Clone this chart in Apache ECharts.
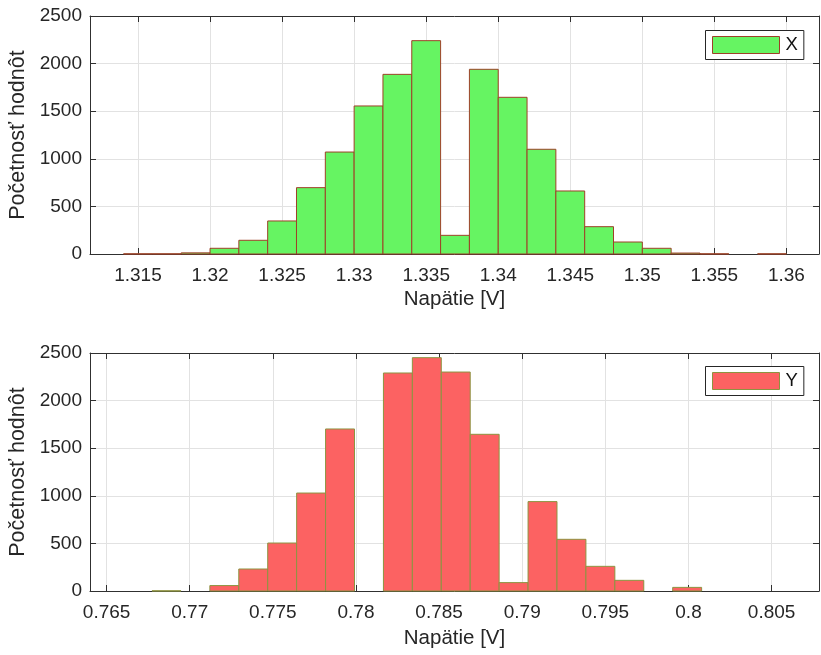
<!DOCTYPE html>
<html>
<head>
<meta charset="utf-8">
<script src="https://cdn.jsdelivr.net/npm/echarts@6/dist/echarts.min.js"></script>
<style>
  html, body { margin: 0; padding: 0; background: #fff; }
  #chart { width: 821px; height: 655px; }
</style>
</head>
<body>
<div id="chart"></div>
<script>
// Histogram of X voltages: bin edges [V] and counts per bin
const xEdges = [1.314, 1.316, 1.318, 1.320, 1.322, 1.324, 1.326, 1.328, 1.330, 1.332, 1.334, 1.336,
                1.338, 1.340, 1.342, 1.344, 1.346, 1.348, 1.350, 1.352, 1.354, 1.356, 1.358, 1.360];
const xCounts = [2, 2, 12, 60, 144, 347, 697, 1071, 1555, 1887, 2241, 196,
                 1940, 1646, 1100, 662, 287, 126, 60, 10, 2, 0, 2];

// Histogram of Y voltages: bin edges [V] and counts per bin
const yEdges = [0.76773, 0.76947, 0.77121, 0.77295, 0.77469, 0.77643, 0.77817, 0.77991, 0.78165, 0.78339,
                0.78513, 0.78687, 0.78861, 0.79035, 0.79209, 0.79383, 0.79557, 0.79731, 0.79905, 0.80079];
const yCounts = [2, 0, 57, 231, 504, 1029, 1702, 0, 2290, 2451,
                 2300, 1646, 88, 939, 543, 259, 112, 0, 38];

// Axis tick values
const xTicks = [1.315, 1.32, 1.325, 1.33, 1.335, 1.34, 1.345, 1.35, 1.355, 1.36];
const yTicks = [0.765, 0.77, 0.775, 0.78, 0.785, 0.79, 0.795, 0.8, 0.805];
const countTicks = [0, 500, 1000, 1500, 2000, 2500];
const xRange = [1.31167, 1.36226];
const yRange = [0.76400, 0.80785];

const countLabel = 'Početnosť hodnôt';
const voltLabel = 'Napätie [V]';

const FONT = "'Liberation Sans', Arial, Helvetica, sans-serif";
const TEXT = '#262626';
const AXIS = '#303030';
const GRIDLINE = '#e2e2e2';

const xFill = '#66f462', xEdge = '#9e4028';
const yFill = '#fc6262', yEdge = '#8c9440';

function toBins(edges, counts) {
  return counts.map((c, i) => [edges[i], edges[i + 1], c]);
}

function renderBin(params, api) {
  const v = api.value(2);
  if (!v) return null;
  const p0 = api.coord([api.value(0), v]);
  const p1 = api.coord([api.value(1), 0]);
  return {
    type: 'rect',
    shape: { x: p0[0], y: p0[1], width: p1[0] - p0[0], height: p1[1] - p0[1] },
    style: api.style()
  };
}

function mainX(grid, range, ticks, gap) {
  return {
    type: 'value', gridIndex: grid, position: 'bottom',
    min: range[0], max: range[1],
    name: voltLabel, nameLocation: 'middle', nameGap: gap,
    nameTextStyle: { fontFamily: FONT, fontSize: 20.5, color: TEXT },
    axisLine: { show: true, onZero: false, lineStyle: { color: AXIS, width: 1 } },
    axisTick: { show: true, inside: true, length: 6, customValues: ticks, lineStyle: { color: AXIS } },
    axisLabel: { show: true, customValues: ticks, margin: 12, fontFamily: FONT, fontSize: 19, color: TEXT,
                 formatter: v => String(v) },
    splitLine: { show: true, lineStyle: { color: GRIDLINE, width: 1 } }
  };
}
function topX(grid, range, ticks) {
  return {
    type: 'value', gridIndex: grid, position: 'top',
    min: range[0], max: range[1],
    axisLine: { show: true, onZero: false, lineStyle: { color: AXIS, width: 1 } },
    axisTick: { show: true, inside: true, length: 6, customValues: ticks, lineStyle: { color: AXIS } },
    axisLabel: { show: false },
    splitLine: { show: false }
  };
}
function leftY(grid) {
  return {
    type: 'value', gridIndex: grid, position: 'left',
    min: 0, max: 2500,
    name: countLabel, nameLocation: 'middle', nameGap: 48,
    nameTextStyle: { fontFamily: FONT, fontSize: 21.5, color: TEXT },
    axisLine: { show: true, onZero: false, lineStyle: { color: AXIS, width: 1 } },
    axisTick: { show: true, inside: true, length: 6, customValues: countTicks, lineStyle: { color: AXIS } },
    axisLabel: { show: true, customValues: countTicks, margin: 8, fontFamily: FONT, fontSize: 19, color: TEXT,
                 formatter: v => String(v) },
    splitLine: { show: true, lineStyle: { color: GRIDLINE, width: 1 } }
  };
}
function rightY(grid) {
  return {
    type: 'value', gridIndex: grid, position: 'right',
    min: 0, max: 2500,
    axisLine: { show: true, onZero: false, lineStyle: { color: AXIS, width: 1 } },
    axisTick: { show: true, inside: true, length: 6, customValues: countTicks, lineStyle: { color: AXIS } },
    axisLabel: { show: false },
    splitLine: { show: false }
  };
}
function legendBox(name, top, fill, edge) {
  return {
    data: [name], left: 705.5, top: top, orient: 'vertical',
    padding: [5, 6, 5, 6.5], itemWidth: 67, itemHeight: 17, itemGap: 0,
    icon: 'rect', selectedMode: false,
    backgroundColor: '#fff', borderColor: '#262626', borderWidth: 1, borderRadius: 0,
    itemStyle: { color: fill, borderColor: edge, borderWidth: 1 },
    textStyle: { fontFamily: FONT, fontSize: 18.5, color: '#111', padding: [0, 0, 0, 1] }
  };
}

const chart = echarts.init(document.getElementById('chart'), null, { renderer: 'canvas' });
chart.setOption({
  animation: false,
  backgroundColor: '#fff',
  grid: [
    { left: 90, right: 2, top: 16, height: 238, outerBoundsMode: 'none', containLabel: false },
    { left: 90, right: 2, top: 353, height: 238, outerBoundsMode: 'none', containLabel: false }
  ],
  xAxis: [
    mainX(0, xRange, xTicks, 35), topX(0, xRange, xTicks),
    mainX(1, yRange, yTicks, 37), topX(1, yRange, yTicks)
  ],
  yAxis: [leftY(0), rightY(0), leftY(1), rightY(1)],
  legend: [legendBox('X', 30.5, xFill, xEdge), legendBox('Y', 366.5, yFill, yEdge)],
  series: [
    {
      name: 'X', type: 'custom', xAxisIndex: 0, yAxisIndex: 0,
      renderItem: renderBin, encode: { x: [0, 1], y: 2 },
      itemStyle: { color: xFill, borderColor: xEdge, borderWidth: 1 },
      data: toBins(xEdges, xCounts), silent: true, z: 3
    },
    {
      name: 'Y', type: 'custom', xAxisIndex: 2, yAxisIndex: 2,
      renderItem: renderBin, encode: { x: [0, 1], y: 2 },
      itemStyle: { color: yFill, borderColor: yEdge, borderWidth: 1 },
      data: toBins(yEdges, yCounts), silent: true, z: 3
    }
  ]
});
</script>
</body>
</html>
